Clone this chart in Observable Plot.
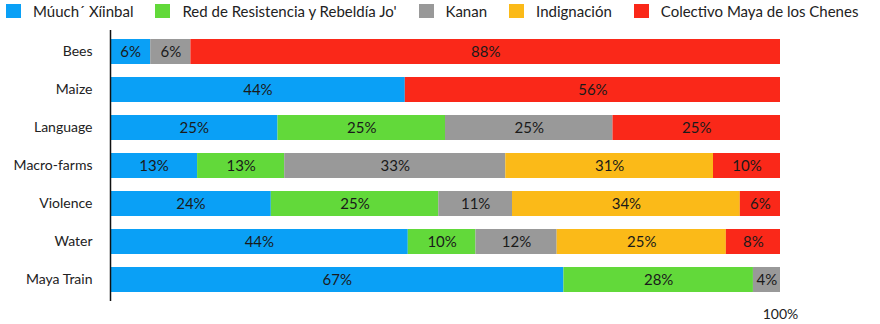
<!DOCTYPE html>
<html>
<head>
<meta charset="utf-8">
<script src="https://cdn.jsdelivr.net/npm/d3@7"></script>
<script src="https://cdn.jsdelivr.net/npm/@observablehq/plot@0.6"></script>
<style>
  html, body { margin: 0; padding: 0; background: #fff; }
  body { width: 880px; height: 324px; overflow: hidden; font-family: Lato, "Open Sans", sans-serif; color: #222; }
  #legend { display: flex; align-items: center; height: 22px; padding-left: 6px; padding-top: 0px; font-size: 15px; }
  .item { display: flex; align-items: center; margin-right: 22px; white-space: nowrap; }
  .sw { width: 15px; height: 14px; margin-right: 12px; display: inline-block; }
  #chart svg { display: block; }
</style>
</head>
<body>
<div id="legend"></div>
<div id="chart"></div>
<script>
const categories = ["Bees", "Maize", "Language", "Macro-farms", "Violence", "Water", "Maya Train"];
const groups = ["Múuch´ Xíinbal", "Red de Resistencia y Rebeldía Jo'", "Kanan", "Indignación", "Colectivo Maya de los Chenes"];
const groupColors = ["#0aa0f6", "#62d93a", "#999999", "#fbba18", "#fa2819"];
const muuchXiinbal = [6, 44, 25, 13, 24, 44, 67];
const redResistencia = [0, 0, 25, 13, 25, 10, 28];
const kanan = [6, 0, 25, 33, 11, 12, 4];
const indignacion = [0, 0, 0, 31, 34, 25, 0];
const colectivoMaya = [88, 56, 25, 10, 6, 8, 0];
const xTicks = [1];
const xTickLabels = ["100%"];

const series = [muuchXiinbal, redResistencia, kanan, indignacion, colectivoMaya];
const data = [];
categories.forEach((c, i) => {
  series.forEach((s, g) => {
    if (s[i] > 0) data.push({category: c, group: groups[g], value: s[i]});
  });
});

// legend
const legend = document.getElementById("legend");
groups.forEach((g, i) => {
  const it = document.createElement("div");
  it.className = "item";
  const sw = document.createElement("span");
  sw.className = "sw";
  sw.style.background = groupColors[i];
  const t = document.createElement("span");
  t.textContent = g;
  it.appendChild(sw);
  it.appendChild(t);
  legend.appendChild(it);
});

const stackOpts = {x: "value", y: "category", z: "group", offset: "normalize", order: groups};

const chart = Plot.plot({
  width: 880,
  height: 302,
  marginTop: 8,
  marginBottom: 23,
  marginLeft: 110,
  marginRight: 100,
  style: {fontFamily: "Lato, 'Open Sans', sans-serif", fontSize: "14px", color: "#222", background: "#fff"},
  x: {domain: [0, 1]},
  y: {domain: categories, paddingInner: 0.33, paddingOuter: 0.165},
  color: {domain: groups, range: groupColors},
  marks: [
    Plot.barX(data, Plot.stackX({...stackOpts, fill: "group"})),
    Plot.textX(data, Plot.stackX({...stackOpts, text: d => d.value + "%", fill: "#1a1a1a", fontSize: 15})),
    Plot.ruleX([0], {stroke: "#111", strokeWidth: 1.5}),
    Plot.axisY({tickSize: 0, tickPadding: 18, label: null, fontSize: 14, fill: "#222"}),
    Plot.axisX({ticks: xTicks, tickFormat: (d) => xTickLabels[xTicks.indexOf(d)], tickSize: 0, tickPadding: 8, label: null, fontSize: 14, fill: "#222"})
  ]
});
document.getElementById("chart").appendChild(chart);
</script>
</body>
</html>
